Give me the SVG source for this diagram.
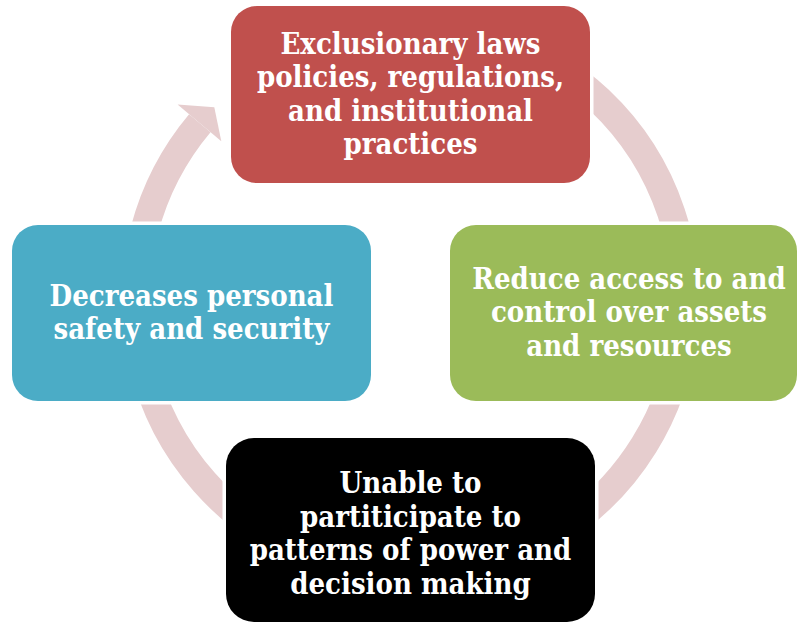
<svg xmlns="http://www.w3.org/2000/svg" width="798" height="623" viewBox="0 0 798 623">
  <style>
    .box { stroke: #FFFFFF; stroke-width: 7; paint-order: stroke; }
    .lbl { font-family: "DejaVu Serif Condensed", "DejaVu Serif", serif; font-weight: bold; font-size: 29px; fill: #FFFFFF; text-anchor: middle; }
  </style>
  <rect width="798" height="623" fill="#FFFFFF"/>
  <g id="connectors">
    <path d="M362.7,29.2 A275,275 0 1 1 199.8,123.2" fill="none" stroke="#E6CDCE" stroke-width="28"/>
    <polygon points="177.6,104.6 214.3,107.3 221.3,141.2" fill="#E6CDCE"/>
  </g>
  <g id="node-laws">
    <rect class="box" x="231" y="6" width="359" height="177" rx="26" fill="#C0504D"/>
    <text class="lbl" x="410.5" y="54">Exclusionary laws</text>
    <text class="lbl" x="410.5" y="87">policies, regulations,</text>
    <text class="lbl" x="410.5" y="121">and institutional</text>
    <text class="lbl" x="410.5" y="154">practices</text>
  </g>
  <g id="node-access">
    <rect class="box" x="450" y="225" width="347" height="176" rx="26" fill="#9BBB59"/>
    <text class="lbl" x="629" y="289">Reduce access to and</text>
    <text class="lbl" x="629" y="322">control over assets</text>
    <text class="lbl" x="629" y="356">and resources</text>
  </g>
  <g id="node-participate">
    <rect class="box" x="226" y="438" width="369" height="184" rx="28" fill="#000000"/>
    <text class="lbl" x="410.5" y="493">Unable to</text>
    <text class="lbl" x="410.5" y="527">partiticipate to</text>
    <text class="lbl" x="410.5" y="560">patterns of power and</text>
    <text class="lbl" x="410.5" y="594">decision making</text>
  </g>
  <g id="node-safety">
    <rect class="box" x="12" y="225" width="359" height="176" rx="26" fill="#4BACC6"/>
    <text class="lbl" x="191.5" y="306">Decreases personal</text>
    <text class="lbl" x="191.5" y="339">safety and security</text>
  </g>
</svg>
